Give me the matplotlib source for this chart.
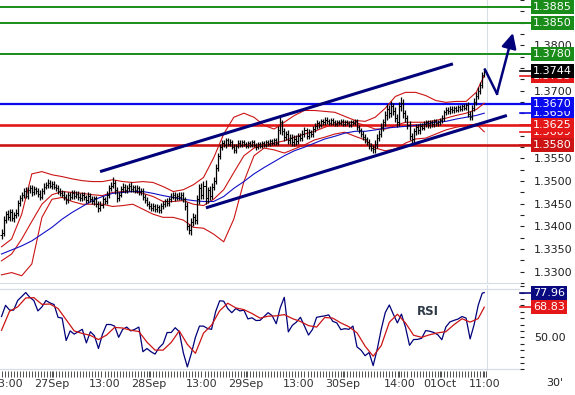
import numpy as np
import matplotlib
matplotlib.use("Agg")
import matplotlib.pyplot as plt
from matplotlib.transforms import blended_transform_factory

# 30 minute bars, 26Sep 11:30 .. 01Oct 11:00
closes = [
    1.3385, 1.3415, 1.3428, 1.3420, 1.3432, 1.3418, 1.3425, 1.3430, 1.3452, 1.3462,
    1.3470, 1.3478, 1.3468, 1.3480, 1.3485, 1.3476, 1.3482, 1.3478, 1.3472, 1.3466,
    1.3478, 1.3488, 1.3492, 1.3496, 1.3490, 1.3494, 1.3488, 1.3485, 1.3478, 1.3474,
    1.3470, 1.3465, 1.3458, 1.3470, 1.3466, 1.3474, 1.3468, 1.3472, 1.3466, 1.3462,
    1.3470, 1.3464, 1.3458, 1.3468, 1.3460, 1.3455, 1.3462, 1.3450, 1.3440, 1.3448,
    1.3460, 1.3455, 1.3470, 1.3485, 1.3490, 1.3496, 1.3480, 1.3462, 1.3470, 1.3482,
    1.3488, 1.3480, 1.3485, 1.3490, 1.3482, 1.3486, 1.3480, 1.3484, 1.3476, 1.3478,
    1.3466, 1.3458, 1.3450, 1.3446, 1.3440, 1.3444, 1.3438, 1.3442, 1.3436, 1.3444,
    1.3450, 1.3455, 1.3452, 1.3460, 1.3466, 1.3470, 1.3464, 1.3468, 1.3465, 1.3470,
    1.3460, 1.3445, 1.3400, 1.3392, 1.3410, 1.3420, 1.3415, 1.3460, 1.3485, 1.3470,
    1.3490, 1.3462, 1.3480, 1.3468, 1.3488, 1.3500, 1.3530, 1.3555, 1.3575, 1.3585,
    1.3580, 1.3590, 1.3582, 1.3586, 1.3576, 1.3568, 1.3578, 1.3585, 1.3580, 1.3586,
    1.3582, 1.3578, 1.3584, 1.3580, 1.3586, 1.3580, 1.3575, 1.3582, 1.3578, 1.3584,
    1.3580, 1.3586, 1.3582, 1.3588, 1.3584, 1.3590, 1.3585, 1.3612, 1.3630, 1.3610,
    1.3598, 1.3604, 1.3590, 1.3596, 1.3586, 1.3594, 1.3588, 1.3600, 1.3596, 1.3605,
    1.3612, 1.3600, 1.3608, 1.3604, 1.3615, 1.3622, 1.3628, 1.3624, 1.3632, 1.3630,
    1.3636, 1.3632, 1.3628, 1.3634, 1.3630, 1.3626, 1.3630, 1.3628, 1.3632, 1.3626,
    1.3630, 1.3628, 1.3624, 1.3630, 1.3628, 1.3632, 1.3620, 1.3612, 1.3604, 1.3598,
    1.3592, 1.3586, 1.3578, 1.3574, 1.3570, 1.3582, 1.3596, 1.3605, 1.3620, 1.3630,
    1.3645, 1.3660, 1.3650, 1.3665, 1.3655, 1.3640, 1.3630, 1.3665, 1.3672, 1.3650,
    1.3640, 1.3625, 1.3600, 1.3592, 1.3610, 1.3620, 1.3612, 1.3622, 1.3618, 1.3626,
    1.3630, 1.3624, 1.3630, 1.3626, 1.3632, 1.3628, 1.3630, 1.3634, 1.3640, 1.3652,
    1.3658, 1.3654, 1.3660, 1.3656, 1.3662, 1.3658, 1.3664, 1.3660, 1.3665, 1.3662,
    1.3668, 1.3648, 1.3642, 1.3662, 1.3675, 1.3688, 1.3700, 1.3712, 1.3735, 1.3744,
]
first_open = 1.3380

# wick length above / below the bar body, in pips
wick_up = [
    10, 7, 6, 8, 6, 7, 6, 8, 7, 7, 6, 7, 8, 6, 7, 6, 7, 6, 7, 8,
    7, 8, 6, 8, 7, 6, 7, 6, 7, 6, 7, 8, 6, 7, 6, 7, 6, 7, 6, 7,
    6, 7, 6, 8, 6, 7, 6, 6, 7, 7, 8, 6, 8, 7, 8, 12, 6, 7, 6, 7,
    7, 6, 7, 6, 7, 6, 6, 7, 6, 7, 6, 6, 6, 7, 6, 7, 6, 7, 6, 7,
    7, 6, 7, 6, 7, 6, 7, 6, 7, 6, 6, 6, 8, 6, 8, 9, 8, 10, 9, 10,
    10, 12, 8, 9, 8, 8, 8, 7, 8, 6, 6, 5, 5, 6, 5, 5, 5, 5, 5, 5,
    5, 5, 5, 5, 5, 5, 5, 5, 5, 5, 5, 5, 5, 5, 5, 5, 6, 10, 11, 6,
    8, 7, 9, 8, 9, 7, 8, 6, 7, 7, 7, 6, 7, 6, 6, 6, 6, 5, 5, 5,
    5, 5, 5, 5, 5, 5, 5, 5, 5, 5, 5, 5, 5, 5, 5, 5, 5, 5, 5, 6,
    6, 6, 6, 6, 6, 8, 8, 8, 9, 8, 9, 10, 9, 12, 8, 9, 8, 10, 13, 9,
    8, 7, 8, 6, 8, 7, 6, 6, 6, 6, 6, 6, 6, 6, 6, 6, 5, 5, 6, 6,
    6, 5, 6, 5, 5, 5, 5, 5, 5, 5, 5, 6, 6, 7, 8, 8, 8, 8, 7, 6,
]
wick_dn = [
    8, 6, 7, 6, 7, 6, 8, 6, 6, 7, 6, 7, 6, 7, 6, 8, 6, 7, 6, 7,
    6, 7, 6, 7, 6, 7, 6, 7, 6, 7, 6, 7, 8, 6, 7, 6, 7, 6, 7, 6,
    7, 6, 7, 6, 7, 6, 7, 8, 8, 6, 7, 6, 6, 7, 6, 6, 8, 9, 7, 6,
    6, 7, 6, 6, 7, 6, 6, 6, 7, 6, 7, 7, 6, 7, 6, 6, 7, 6, 7, 6,
    6, 7, 6, 6, 6, 6, 7, 6, 7, 6, 7, 8, 8, 9, 10, 9, 10, 9, 10, 9,
    10, 12, 10, 9, 8, 7, 7, 7, 6, 6, 5, 6, 5, 5, 6, 6, 5, 5, 5, 5,
    5, 5, 5, 5, 5, 5, 6, 5, 5, 5, 5, 5, 5, 5, 5, 5, 5, 5, 8, 8,
    9, 8, 9, 8, 9, 8, 8, 7, 7, 7, 8, 8, 7, 6, 6, 6, 6, 6, 5, 5,
    5, 5, 5, 5, 5, 5, 5, 5, 5, 5, 5, 5, 5, 5, 5, 5, 6, 6, 7, 7,
    7, 7, 7, 7, 8, 8, 8, 8, 8, 9, 9, 9, 10, 9, 10, 10, 10, 9, 10, 10,
    9, 10, 9, 7, 8, 8, 7, 7, 6, 6, 6, 6, 6, 6, 6, 6, 6, 6, 6, 7,
    6, 6, 5, 5, 5, 5, 5, 5, 5, 5, 5, 7, 7, 6, 7, 7, 7, 7, 7, 6,
]

# Bollinger bands and slow average, read every 5 bars
band_bars = list(range(0, 240, 5)) + [239]
bb_upper = [
    1.3355, 1.3372, 1.3427, 1.3516, 1.3521, 1.3514, 1.3510, 1.3505, 1.3501, 1.3499,
    1.3499, 1.3503, 1.3499, 1.3497, 1.3499, 1.3497, 1.3488, 1.3477, 1.3481, 1.3492,
    1.3508, 1.3551, 1.3604, 1.3641, 1.3650, 1.3641, 1.3623, 1.3615, 1.3630, 1.3645,
    1.3656, 1.3656, 1.3654, 1.3652, 1.3643, 1.3634, 1.3632, 1.3641, 1.3661, 1.3687,
    1.3696, 1.3696, 1.3689, 1.3678, 1.3674, 1.3676, 1.3676, 1.3696, 1.3733,
]
bb_mid = [
    1.3324, 1.3339, 1.3372, 1.3411, 1.3449, 1.3470, 1.3477, 1.3475, 1.3473, 1.3470,
    1.3468, 1.3475, 1.3477, 1.3477, 1.3473, 1.3466, 1.3455, 1.3455, 1.3457, 1.3449,
    1.3446, 1.3460, 1.3481, 1.3519, 1.3556, 1.3573, 1.3580, 1.3584, 1.3589, 1.3597,
    1.3604, 1.3610, 1.3619, 1.3626, 1.3630, 1.3630, 1.3623, 1.3615, 1.3615, 1.3623,
    1.3630, 1.3630, 1.3630, 1.3634, 1.3639, 1.3645, 1.3650, 1.3658, 1.3672,
]
bb_lower = [
    1.3293, 1.3298, 1.3291, 1.3317, 1.3420, 1.3460, 1.3464, 1.3455, 1.3449, 1.3449,
    1.3449, 1.3444, 1.3446, 1.3449, 1.3438, 1.3427, 1.3420, 1.3420, 1.3414, 1.3398,
    1.3396, 1.3383, 1.3366, 1.3416, 1.3499, 1.3556, 1.3573, 1.3569, 1.3562, 1.3571,
    1.3580, 1.3591, 1.3597, 1.3604, 1.3608, 1.3599, 1.3591, 1.3573, 1.3567, 1.3571,
    1.3584, 1.3593, 1.3595, 1.3604, 1.3613, 1.3619, 1.3623, 1.3626, 1.3609,
]
ma_slow = [
    1.3339, 1.3348, 1.3357, 1.3368, 1.3383, 1.3398, 1.3416, 1.3431, 1.3444, 1.3457,
    1.3466, 1.3473, 1.3475, 1.3477, 1.3477, 1.3473, 1.3468, 1.3464, 1.3460, 1.3457,
    1.3455, 1.3455, 1.3466, 1.3484, 1.3499, 1.3516, 1.3530, 1.3543, 1.3556, 1.3567,
    1.3575, 1.3584, 1.3593, 1.3599, 1.3606, 1.3610, 1.3610, 1.3613, 1.3617, 1.3619,
    1.3621, 1.3623, 1.3626, 1.3630, 1.3632, 1.3637, 1.3641, 1.3645, 1.3650,
]

# RSI (every 2 bars) and its average (every 4 bars)
rsi_bars = list(range(0, 240, 2)) + [239]
rsi_fast = [
    63, 70, 67, 67, 73, 75.5, 78, 75, 73, 66.5,
    69, 73, 71.5, 70.5, 62.5, 62, 48, 54, 52, 53.5,
    55, 46.5, 53.5, 51, 43, 52, 58, 58, 57, 50,
    55, 56.4, 54, 55, 56.4, 41, 43, 41, 39.5, 43.5,
    46, 53, 53, 56, 53.5, 40.4, 31.5, 40, 50, 57,
    57, 55.5, 55, 66, 72.8, 72.6, 68, 65.4, 68, 66.5,
    67, 61.5, 62.2, 60.5, 60.6, 63, 65.4, 63.5, 58.5, 68.5,
    75, 53.4, 57.5, 59.5, 62.5, 57, 51.4, 55, 62.5, 63,
    63.4, 64, 60, 59, 54.8, 55.4, 55, 57, 44, 42,
    38.5, 40.5, 32.3, 42.5, 55, 65.5, 70.2, 64.4, 59, 64.5,
    56.4, 45, 48.6, 48.7, 49.4, 54.2, 53.8, 53, 51.6, 48.5,
    56.5, 59.6, 60.6, 61.4, 63, 62, 49, 58, 70, 77.6,
    77.96,
]
sig_bars = list(range(0, 240, 4)) + [239]
rsi_signal = [
    54.4, 66.3, 69, 74.6, 74.8, 70.6, 70.8, 68, 61, 54,
    52.4, 51.2, 48.6, 51.4, 56.2, 55.8, 54.4, 53.6, 47, 42,
    42, 46.8, 54, 45.6, 40, 52.6, 57.6, 66.6, 71.3, 68.4,
    67.3, 64.9, 62, 63.2, 63.4, 64.2, 61.7, 59.9, 57.3, 56.4,
    62.4, 62, 59, 56.6, 52.8, 44.5, 38.2, 44.8, 59.4, 64.4,
    59, 51.3, 50, 51.6, 52.8, 53.5, 57.9, 61.6, 59.5, 61.7,
    68.83,
]

tick_bars = [3, 25, 51, 73, 99, 121, 147, 169, 197, 217, 239]
tick_names = ["13:00", "27Sep", "13:00", "28Sep", "13:00", "29Sep",
              "13:00", "30Sep", "14:00", "01Oct", "11:00"]

green_levels = [1.3885, 1.3850, 1.3780]
blue_level = 1.3670
red_levels = [1.3625, 1.3580]

channel_top = ([48.8, 223.5], [1.3521, 1.3759])
channel_bottom = ([101.2, 250.2], [1.3441, 1.3645])
arrow_bars = [239.4, 245.3, 253.2]
arrow_prices = [1.3746, 1.3693, 1.3827]

NAVY = "#00007a"
GREEN = "#1a8c1a"
RED = "#e41818"
DARKRED = "#cc1414"
GRID = "#d6dee8"

opens = [first_open] + closes[:-1]
x = np.arange(len(closes))
highs = np.maximum(opens, closes) + np.array(wick_up) / 10000
lows = np.minimum(opens, closes) - np.array(wick_dn) / 10000

fig = plt.figure(figsize=(5.75, 3.95), dpi=100)
W, H = 575, 395
ax = fig.add_axes([0, 1 - 283 / H, 520 / W, 283 / H])
axr = fig.add_axes([0, 1 - 371 / H, 520 / W, 86 / H])

for a in (ax, axr):
    a.set_xlim(-0.75, 256.7)
    for s in a.spines.values():
        s.set_visible(False)
    a.axvline(240.5, color=GRID, lw=0.8, zorder=0)

ax.set_ylim(1.32781, 1.38967)
ax.spines["bottom"].set_visible(True)
ax.spines["bottom"].set_color(GRID)

# price bars
ax.vlines(x, lows, highs, color="black", lw=0.9, zorder=4)
ax.hlines(opens, x - 0.6, x, color="black", lw=0.7, zorder=4)
ax.hlines(closes, x, x + 0.6, color="black", lw=0.7, zorder=4)

# indicators
ax.plot(band_bars, bb_upper, color=DARKRED, lw=0.8, zorder=3)
ax.plot(band_bars, bb_mid, color=DARKRED, lw=0.8, zorder=3)
ax.plot(band_bars, bb_lower, color=DARKRED, lw=0.8, zorder=3)
ax.plot(band_bars, ma_slow, color="#1010c8", lw=0.8, zorder=3)

# support / resistance levels
for lv in green_levels:
    ax.axhline(lv, xmax=1.025, color=GREEN, lw=1.4, clip_on=False, zorder=2)
ax.axhline(blue_level, xmax=1.025, color="#0a0aee", lw=1.6, clip_on=False, zorder=2)
ax.axhline(red_levels[0], xmax=1.025, color=RED, lw=1.9, clip_on=False, zorder=2)
ax.axhline(red_levels[1], xmax=1.025, color=DARKRED, lw=1.9, clip_on=False, zorder=2)

# trend channel and projection arrow
ax.plot(*channel_top, color=NAVY, lw=2.2, solid_capstyle="butt", zorder=5)
ax.plot(*channel_bottom, color=NAVY, lw=2.2, solid_capstyle="butt", zorder=5)
ax.plot(arrow_bars[:2], arrow_prices[:2], color=NAVY, lw=1.8, zorder=5, clip_on=False)
ax.annotate("", xy=(arrow_bars[2], arrow_prices[2]), xytext=(arrow_bars[1], arrow_prices[1]),
            arrowprops=dict(arrowstyle="-|>,head_length=0.9,head_width=0.45",
                            color=NAVY, lw=1.8, shrinkA=0, shrinkB=0),
            zorder=5, annotation_clip=False)

# right price scale
ax.yaxis.tick_right()
ax.set_yticks(np.arange(1.3300, 1.3901, 0.0050))
ax.set_yticks(np.arange(1.3275, 1.3901, 0.0025), minor=True)
ax.yaxis.set_major_formatter(plt.FormatStrFormatter("%.4f"))
ax.tick_params(axis="y", which="both", length=3, width=0.8, pad=7,
               labelsize=8, colors="#222222")
ax.set_xticks([])

tr = blended_transform_factory(fig.transFigure, ax.transData)
tx = 533 / W


def tag(a, trans, y, text, color, z):
    a.plot([1.0, 1.024], [y, y], transform=blended_transform_factory(a.transAxes, a.transData),
           color=color, lw=1.2, clip_on=False, zorder=z)
    a.text(tx, y, text, transform=trans, ha="left", va="center", fontsize=8,
           color="white", zorder=z,
           bbox=dict(boxstyle="square,pad=0.18", fc=color, ec="none"))


for lv, z in zip(green_levels, (6, 6, 6)):
    tag(ax, tr, lv, f"{lv:.4f}", GREEN, z)
tag(ax, tr, bb_upper[-1], f"{bb_upper[-1]:.4f}", RED, 6)
tag(ax, tr, closes[-1], f"{closes[-1]:.4f}", "black", 7)
tag(ax, tr, ma_slow[-1], f"{ma_slow[-1]:.4f}", "#0a0aee", 6)
tag(ax, tr, blue_level, f"{blue_level:.4f}", "#0a0aee", 7)
tag(ax, tr, bb_lower[-1], f"{bb_lower[-1]:.4f}", RED, 6)
tag(ax, tr, red_levels[0], f"{red_levels[0]:.4f}", RED, 7)
tag(ax, tr, red_levels[1], f"{red_levels[1]:.4f}", DARKRED, 8)

# RSI panel
axr.set_ylim(28.94, 82.7)
axr.axhline(30, color=GRID, lw=0.9, zorder=0)
axr.axhline(80, color=GRID, lw=0.9, zorder=0)
axr.plot(rsi_bars, rsi_fast, color=NAVY, lw=0.9, zorder=3)
axr.plot(sig_bars, rsi_signal, color=DARKRED, lw=0.9, zorder=3)
axr.text(211, 66.4, "RSI", fontsize=8.5, fontweight="bold", color="#2e3a46",
         ha="center", va="center")

axr.yaxis.tick_right()
rsi_ticks = np.arange(30, 83, 4)
axr.set_yticks(rsi_ticks)
axr.set_yticklabels(["50.00" if t == 50 else "" for t in rsi_ticks])
axr.tick_params(axis="y", length=3, width=0.8, pad=7, labelsize=8, colors="#222222")

trr = blended_transform_factory(fig.transFigure, axr.transData)
tag(axr, trr, rsi_fast[-1], f"{rsi_fast[-1]:.2f}", "#0a0a80", 6)
tag(axr, trr, rsi_signal[-1], f"{rsi_signal[-1]:.2f}", RED, 6)

axr.set_xticks(tick_bars)
axr.set_xticklabels(tick_names)
axr.set_xticks(np.arange(0, 241, 1.5), minor=True)
axr.tick_params(axis="x", which="both", length=4, width=0.6, colors="#333333",
                labelsize=8, pad=2)

fig.text(555 / W, 1 - 383 / H, "30'", fontsize=8, ha="center", va="center", color="#222222")

fig.savefig("out.png", dpi=100)
